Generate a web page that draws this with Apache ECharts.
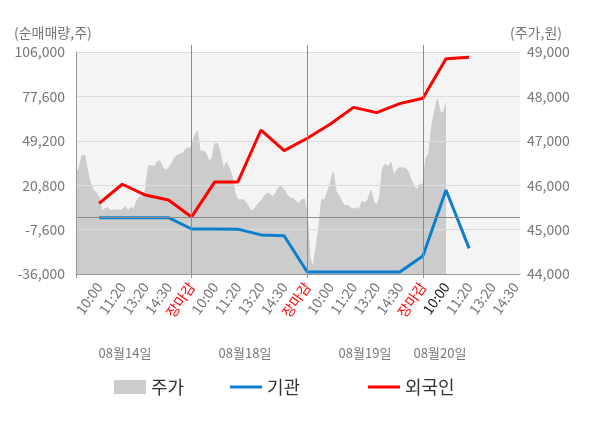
<!DOCTYPE html>
<html>
<head>
<meta charset="utf-8">
<script src="https://cdn.jsdelivr.net/npm/echarts@6/dist/echarts.min.js"></script>
<style>
html, body { margin: 0; padding: 0; background: #fff; }
#chart { width: 600px; height: 428px; }
</style>
</head>
<body>
<div id="chart"></div>
<script>
// x 축: 0..19 슬롯 (하루 5칸: 10:00, 11:20, 13:20, 14:30, 장마감)
var timeLabels = ['', '10:00', '11:20', '13:20', '14:30', '장마감',
	'10:00', '11:20', '13:20', '14:30', '장마감',
	'10:00', '11:20', '13:20', '14:30', '장마감',
	'10:00', '11:20', '13:20', '14:30'];
var dayBreaks = [5, 10, 15];
var dateLabels = ['08월14일', '08월18일', '08월19일', '08월20일'];

// 외국인 / 기관 순매매량 (슬롯 1..17)
var foreignNet = [9200, 21400, 14500, 11300, 500, 22900, 22900, 56100, 42900,
	50800, 59900, 70600, 67200, 73000, 76400, 101700, 102600];
var instNet = [0, 0, 0, 0, -7200, -7200, -7300, -11000, -11500,
	-34700, -34700, -34700, -34700, -34700, -24500, 17700, -19600];

// 주가 (0.125 슬롯 간격)
var priceStep = 0.125;
var price = [46300, 46360, 46650, 46680, 46320, 46050, 45890, 45830, 45730, 45420,
	45470, 45490, 45430, 45440, 45440, 45440, 45440, 45520, 45430, 45500,
	45460, 45650, 45730, 45740, 45890, 46430, 46440, 46410, 46520, 46550,
	46400, 46340, 46380, 46470, 46610, 46670, 46700, 46720, 46820, 46830,
	46870, 47110, 47220, 46750, 46770, 46720, 46540, 46600, 46930, 46940,
	46710, 46370, 46510, 46390, 46200, 45810, 45670, 45670, 45670, 45590,
	45480, 45420, 45500, 45580, 45640, 45740, 45820, 45800, 45740, 45810,
	45940, 45970, 45900, 45790, 45710, 45710, 45650, 45570, 45670, 45690,
	45350, 44340, 44140, 44590, 45050, 45680, 45670, 45860, 46050, 46290,
	45850, 45760, 45620, 45540, 45550, 45490, 45460, 45490, 45460, 45640,
	45600, 45680, 45880, 45630, 45550, 45720, 46370, 46480, 46410, 46510,
	46210, 46350, 46400, 46380, 46390, 46300, 46110, 45970, 45900, 46030,
	46000, 46600, 46710, 47300, 47660, 47950, 47650, 47630, 47850];

var FONT = '"Noto Sans CJK KR", "Noto Sans", sans-serif';
var LINE_ICON = 'path://M0,0H32V3H0Z';

var priceData = price.map(function(v, i) { return [i * priceStep, v]; });
var foreignData = foreignNet.map(function(v, i) { return [i + 1, v]; });
var instData = instNet.map(function(v, i) { return [i + 1, v]; });

function legendAt(left, name, icon)
{
	return {
		left: left, top: 378, padding: 0,
		itemWidth: 32, itemHeight: 14,
		textStyle: { fontSize: 18, color: '#333', fontFamily: FONT },
		data: [ { name: name, icon: icon } ]
	};
}

var chart = echarts.init(document.getElementById('chart'));

var option =
{
	animation: false,
	textStyle: { fontFamily: FONT },
	grid:
	{
		left: 76, right: 80, top: 52, bottom: 154,
		show: true, backgroundColor: '#f4f4f4', borderWidth: 0,
		containLabel: false, outerBoundsMode: 'none'
	},
	legend:
	[
		legendAt(114, '주가', 'rect'),
		legendAt(230, '기관', LINE_ICON),
		legendAt(368, '외국인', LINE_ICON)
	],
	xAxis:
	[
		{
			type: 'value', position: 'bottom', min: 0, max: 19.2, interval: 1, z: 3,
			axisLine: { show: true, onZero: false, lineStyle: { color: '#999' } },
			axisTick: { show: true, length: 4, customValues: [0].concat(dayBreaks), lineStyle: { color: '#999' } },
			splitLine: { show: false },
			axisLabel:
			{
				rotate: 55, fontSize: 14, margin: 10, fontFamily: FONT,
				formatter: function(v) { return Number.isInteger(v) ? (timeLabels[v] || '') : ''; },
				color: function(v)
				{
					var n = Math.round(Number(v));
					if (dayBreaks.indexOf(n) >= 0) return '#ff0000';
					if (n === 16) return '#222';
					return '#777';
				}
			}
		},
		{
			type: 'value', position: 'top', min: 0, max: 19.2, interval: 5, z: 3,
			axisLine: { show: false, onZero: false },
			axisTick: { show: true, length: 7, customValues: dayBreaks, lineStyle: { color: '#8c8c8c' } },
			axisLabel: { show: false },
			splitLine: { show: false }
		}
	],
	yAxis:
	[
		{
			type: 'value', position: 'right', min: 44000, max: 49000, interval: 1000, z: 3,
			axisLine: { show: true, lineStyle: { color: '#ccc' } },
			axisTick: { show: false },
			axisLabel: { fontSize: 14, color: '#777', margin: 7, fontFamily: FONT },
			splitLine: { show: true, lineStyle: { color: '#dcdcdc' } }
		},
		{
			type: 'value', position: 'left', min: -36000, max: 106000, alignTicks: true, z: 3,
			axisLine: { show: true, lineStyle: { color: '#999' } },
			axisTick: { show: false },
			axisLabel: { fontSize: 14, color: '#777', margin: 11, fontFamily: FONT },
			splitLine: { show: false }
		}
	],
	graphic:
	[
		{ type: 'text', left: 14, top: 26, style: { text: '(순매매량,주)', fill: '#777', font: '14px ' + FONT } },
		{ type: 'text', left: 510, top: 26, style: { text: '(주가,원)', fill: '#777', font: '14px ' + FONT } },
		{ type: 'text', x: 125, y: 353, style: { text: dateLabels[0], fill: '#777', font: '13px ' + FONT, align: 'center', verticalAlign: 'middle' } },
		{ type: 'text', x: 245, y: 353, style: { text: dateLabels[1], fill: '#777', font: '13px ' + FONT, align: 'center', verticalAlign: 'middle' } },
		{ type: 'text', x: 365, y: 353, style: { text: dateLabels[2], fill: '#777', font: '13px ' + FONT, align: 'center', verticalAlign: 'middle' } },
		{ type: 'text', x: 440, y: 353, style: { text: dateLabels[3], fill: '#777', font: '13px ' + FONT, align: 'center', verticalAlign: 'middle' } }
	],
	series:
	[
		{
			name: '주가', type: 'line', xAxisIndex: 0, yAxisIndex: 0, z: 2,
			data: priceData, symbol: 'none', silent: true,
			itemStyle: { color: '#cccccc' },
			lineStyle: { width: 1, color: '#cccccc' },
			areaStyle: { color: '#cccccc', opacity: 1 },
			markLine:
			{
				silent: true, symbol: ['none', 'none'], label: { show: false },
				lineStyle: { type: 'solid', color: '#8c8c8c', width: 1 },
				data: dayBreaks.map(function(d) { return { xAxis: d }; })
			}
		},
		{
			name: 'zero', type: 'line', xAxisIndex: 0, yAxisIndex: 1, z: 3, data: [],
			markLine:
			{
				silent: true, symbol: ['none', 'none'], label: { show: false },
				lineStyle: { type: 'solid', color: '#8c8c8c', width: 1 },
				data: [{ yAxis: 0 }]
			}
		},
		{
			name: '기관', type: 'line', xAxisIndex: 0, yAxisIndex: 1, z: 4,
			data: instData, symbol: 'none',
			itemStyle: { color: '#0b7fcb' },
			lineStyle: { width: 3, color: '#0b7fcb' }
		},
		{
			name: '외국인', type: 'line', xAxisIndex: 0, yAxisIndex: 1, z: 4,
			data: foreignData, symbol: 'none',
			itemStyle: { color: '#ff0000' },
			lineStyle: { width: 3, color: '#ff0000' }
		}
	]
};

chart.setOption(option);
</script>
</body>
</html>
